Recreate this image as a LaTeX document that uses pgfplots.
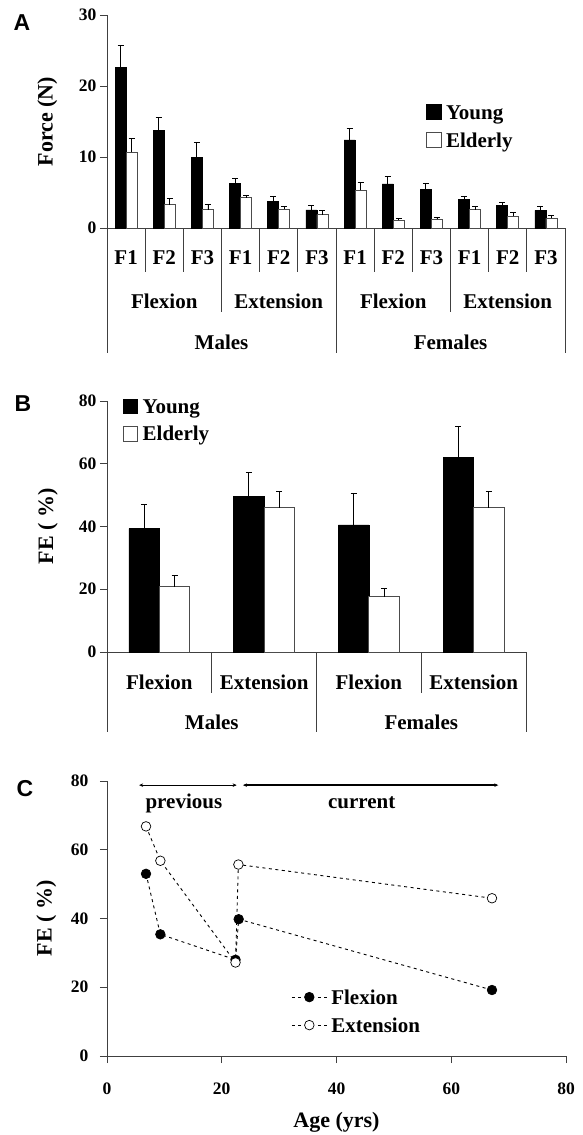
\documentclass[border=0pt]{standalone}
\usepackage{fontspec}
\setmainfont{Liberation Serif}
\newfontfamily\arial{Liberation Sans}
\usepackage{pgfplots}
\usepackage{pgfplotstable}
\pgfplotsset{compat=1.18}
\usetikzlibrary{arrows.meta}

\newcommand\tickf{\fontsize{17.5}{17.5}\selectfont\bfseries}
\newcommand\catf{\fontsize{21}{21}\selectfont\bfseries}
\newcommand\labf{\fontsize{22}{22}\selectfont\bfseries}
\newcommand\panf{\fontsize{23}{23}\selectfont\arial\bfseries}
\colorlet{axc}{black!75}

\pgfplotstableread{
x y e
0.5 22.6 3.1
1.5 13.8 1.8
2.5 10.0 2.0
3.5 6.3 0.7
4.5 3.7 0.7
5.5 2.56 0.55
6.5 12.4 1.6
7.5 6.2 1.0
8.5 5.4 0.9
9.5 4.06 0.45
10.5 3.2 0.4
11.5 2.5 0.6
}\Ay
\pgfplotstableread{
x y e
0.5 10.7 1.85
1.5 3.27 0.83
2.5 2.57 0.7
3.5 4.25 0.32
4.5 2.66 0.42
5.5 1.87 0.65
6.5 5.3 1.1
7.5 1.07 0.25
8.5 1.2 0.25
9.5 2.6 0.4
10.5 1.68 0.5
11.5 1.35 0.45
}\Ae
\pgfplotstableread{
x y e
0.5 39.3 7.8
1.5 49.5 7.8
2.5 40.5 10.0
3.5 62.0 9.9
}\By
\pgfplotstableread{
x y e
0.5 20.8 3.6
1.5 46.0 5.3
2.5 17.6 2.8
3.5 46.0 5.3
}\Be

\pgfplotsset{
  panel/.style={
    scale only axis, clip=false, enlargelimits=false,
    axis lines=left,
    every non boxed x axis/.append style={x axis line style={-}},
    every non boxed y axis/.append style={y axis line style={-}},
    axis line style={-, line width=0.9pt, draw=axc},
    tick style={line width=0.9pt, draw=axc},
    major tick length=7pt,
    tick align=outside,
    ticklabel style={font=\tickf},
    /pgf/number format/assume math mode=true,
    ylabel style={font=\labf, anchor=center},
    xlabel style={font=\labf, anchor=center},
    legend style={draw=none, fill=none, font=\catf, inner sep=0pt, row sep=4pt,
      nodes={inner sep=2pt, text height=15pt, text depth=5pt}},
    legend cell align=left,
  },
  errb/.style={error bars/.cd, y dir=plus, y explicit,
    error bar style={line width=0.9pt, black},
    error mark options={rotate=90, mark size=3pt, line width=0.9pt, black}},
  yb/.style={ybar, bar width=0.29, bar shift=0pt, fill=black, draw=black, line width=0.6pt, errb},
  eb/.style={ybar, bar width=0.29, bar shift=0pt, fill=white, draw=black!70, line width=0.8pt, errb},
}

\begin{document}
\begin{tikzpicture}[x=1pt,y=1pt]
\useasboundingbox (0,0) rectangle (583,-1135);

% ---------------- Panel A ----------------
\node[font=\panf] at (22,-22.5) {A};
\begin{axis}[panel, at={(107pt,-228pt)}, anchor=south west,
  width=458pt, height=213pt,
  xmin=0, xmax=12, ymin=0, ymax=30,
  ytick={0,10,20,30}, xtick=\empty,
  ylabel={Force (N)},
  ylabel style={at={(axis description cs:-0.13,0.5)}},
  legend style={at={(axis cs:8.36,17.75)}, anchor=north west},
  legend image code/.code={\draw[#1,line width=0.8pt] (0pt,-5pt) rectangle (14.3pt,9.3pt); \path (17pt,0pt);},
]
\addplot[yb] table[x expr=\thisrow{x}-0.145,y=y,y error=e]{\Ay};
\addplot[eb] table[x expr=\thisrow{x}+0.145,y=y,y error=e]{\Ae};
\legend{Young,Elderly}
\end{axis}
\foreach \i in {0,...,12}{
  \pgfmathsetmacro\xx{107+\i*458/12}
  \pgfmathsetmacro\L{(\i==0||\i==6||\i==12) ? 353 : ((\i==3||\i==9) ? 312 : 272)}
  \draw[axc, line width=0.9pt] (\xx,-228) -- (\xx,-\L);
}
\foreach \i/\t in {0/F1,1/F2,2/F3,3/F1,4/F2,5/F3,6/F1,7/F2,8/F3,9/F1,10/F2,11/F3}{
  \pgfmathsetmacro\xx{107+(\i+0.5)*458/12}
  \node[font=\catf] at (\xx,-258) {\t};
}
\foreach \i/\t in {0/Flexion,1/Extension,2/Flexion,3/Extension}{
  \pgfmathsetmacro\xx{107+(\i+0.5)*458/4}
  \node[font=\catf] at (\xx,-301) {\t};
}
\foreach \i/\t in {0/Males,1/Females}{
  \pgfmathsetmacro\xx{107+(\i+0.5)*458/2}
  \node[font=\catf] at (\xx,-342) {\t};
}

% ---------------- Panel B ----------------
\node[font=\panf] at (23,-404) {B};
\begin{axis}[panel, at={(107pt,-652pt)}, anchor=south west,
  width=419pt, height=251pt,
  xmin=0, xmax=4, ymin=0, ymax=80,
  ytick={0,20,40,60,80}, xtick=\empty,
  ylabel={FE ( \%)},
  ylabel style={at={(axis description cs:-0.141,0.5)}},
  legend style={at={(axis cs:0.15,81.5)}, anchor=north west, row sep=3.4pt},
  legend image code/.code={\draw[#1,line width=0.8pt] (0pt,-5pt) rectangle (14.3pt,9.3pt); \path (17pt,0pt);},
]
\addplot[yb] table[x expr=\thisrow{x}-0.145,y=y,y error=e]{\By};
\addplot[eb] table[x expr=\thisrow{x}+0.145,y=y,y error=e]{\Be};
\legend{Young,Elderly}
\end{axis}
\foreach \i in {0,...,4}{
  \pgfmathsetmacro\xx{107+\i*419/4}
  \pgfmathsetmacro\L{(\i==1||\i==3) ? 693 : 732}
  \draw[axc, line width=0.9pt] (\xx,-652) -- (\xx,-\L);
}
\foreach \i/\t in {0/Flexion,1/Extension,2/Flexion,3/Extension}{
  \pgfmathsetmacro\xx{107+(\i+0.5)*419/4}
  \node[font=\catf] at (\xx,-682) {\t};
}
\foreach \i/\t in {0/Males,1/Females}{
  \pgfmathsetmacro\xx{107+(\i+0.5)*419/2}
  \node[font=\catf] at (\xx,-722) {\t};
}

% ---------------- Panel C ----------------
\node[font=\panf] at (25,-789) {C};
\begin{axis}[panel, at={(107pt,-1056pt)}, anchor=south west,
  width=459pt, height=275pt,
  xmin=0, xmax=80, ymin=0, ymax=80,
  xtick={0,20,40,60,80}, ytick={0,20,40,60,80},
  xticklabel style={yshift=-16pt},
  yticklabel style={xshift=-8pt},
  xlabel={Age (yrs)}, ylabel={FE ( \%)},
  xlabel style={at={(axis description cs:0.5,-0.24)}},
  ylabel style={at={(axis description cs:-0.132,0.5)}},
  legend style={at={(axis cs:32.1,20.1)}, anchor=north west},
  legend image code/.code={\draw[mark repeat=2,mark phase=2,#1] plot coordinates {(0pt,2pt) (17.5pt,2pt) (35pt,2pt)}; \path (37pt,0pt);},
]
\addplot[black, line width=0.9pt, dash pattern=on 3pt off 3.5pt, mark=*, mark size=4.8pt,
  mark options={solid, fill=black, draw=black, line width=0.7pt}]
  coordinates {(6.8,53.0) (9.3,35.4) (22.4,28.0) (22.95,39.8) (67.1,19.2)};
\addplot[black, line width=0.9pt, dash pattern=on 3pt off 3.5pt, mark=*, mark size=4.8pt,
  mark options={solid, fill=white, draw=black, line width=0.7pt}]
  coordinates {(6.8,66.8) (9.3,56.8) (22.4,27.2) (22.9,55.7) (67.1,45.9)};
\legend{Flexion,Extension}
\draw[{Stealth[length=4pt,width=3.5pt]}-{Stealth[length=4pt,width=3.5pt]}, line width=0.8pt]
  (axis cs:5.6,78.8) -- (axis cs:22.6,78.8);
\draw[{Stealth[length=4pt,width=3.5pt]}-{Stealth[length=4pt,width=3.5pt]}, line width=1.3pt]
  (axis cs:23.7,78.8) -- (axis cs:68.2,78.8);
\node[font=\catf, anchor=base] at (axis cs:13.4,72.1) {previous};
\node[font=\catf, anchor=base] at (axis cs:44.4,72.1) {current};
\end{axis}
\end{tikzpicture}
\end{document}
